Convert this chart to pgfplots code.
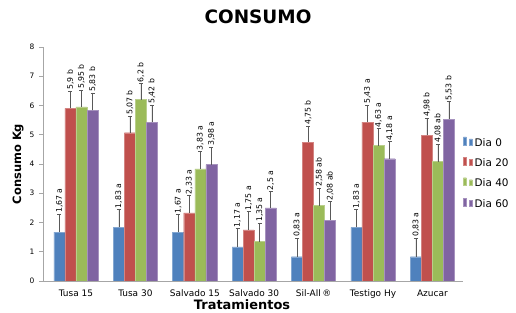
\documentclass[border=0pt]{standalone}
\usepackage{fontspec}
\setmainfont{DejaVu Sans}
\usepackage{pgfplots}
\pgfplotsset{compat=1.18}
\definecolor{cBlue}{RGB}{79,129,189}
\definecolor{cRed}{RGB}{192,80,77}
\definecolor{cGreen}{RGB}{155,187,89}
\definecolor{cPurple}{RGB}{128,100,162}
\begin{document}
\begin{tikzpicture}
\begin{axis}[
  at={(0,0)}, anchor=south west,
  scale only axis, width=420bp, height=234bp,
  xmin=-0.555, xmax=6.515, ymin=0, ymax=8,
  axis x line*=bottom, axis y line*=left,
  axis line style={black!35, line width=0.6pt},
  xtick={0,1,2,3,4,5,6},
  xticklabels={Tusa 15, Tusa 30, Salvado 15, Salvado 30, Sil-All\,®, Testigo Hy, Azucar},
  xtick style={draw=none},
  ytick={0,1,...,8},
  ytick style={black!35, line width=0.6pt},
  tick align=outside, major tick length=4bp,
  /pgf/number format/assume math mode=true,
  yticklabel style={font=\fontsize{7.5}{9}\selectfont, xshift=-1bp},
  xticklabel style={font=\fontsize{9}{11}\selectfont, yshift=-1bp},
  title={CONSUMO},
  title style={at={(axis description cs:0.512,1.102)}, anchor=center, inner sep=0pt, font=\fontsize{18.5}{20}\selectfont\bfseries},
  xlabel={Tratamientos},
  xlabel style={at={(axis description cs:0.474,-0.103)}, anchor=center, inner sep=0pt, font=\fontsize{13}{15}\selectfont\bfseries},
  ylabel={Consumo Kg},
  ylabel style={at={(axis description cs:-0.0595,0.5)}, anchor=center, inner sep=0pt, font=\fontsize{11.5}{14}\selectfont\bfseries},
  legend style={at={(1.0,0.62)}, anchor=north west, draw=none, fill=none,
    font=\fontsize{10.5}{12}\selectfont, row sep=7bp, inner sep=0pt,
    legend cell align=left},
  legend image code/.code={\fill[#1] (0bp,-3.7bp) rectangle (8bp,3.7bp);},
  ybar, bar width=0.186, bar shift=0pt,
  error bars/y dir=plus, error bars/y explicit,
  error bars/error bar style={black!65, line width=0.6pt},
  error bars/error mark options={rotate=90, mark size=2bp, black!65, line width=0.6pt},
  nodes near coords style={rotate=90, anchor=west, font=\fontsize{7.8}{8}\selectfont, inner sep=1bp},
]
% bars
\addplot[fill=cBlue, draw=cBlue!70!white, line width=0.4pt]
  coordinates {(-0.279,1.67) +- (0,0.62) (0.721,1.83) +- (0,0.62) (1.721,1.67) +- (0,0.6) (2.721,1.17) +- (0,0.63)
               (3.721,0.83) +- (0,0.64) (4.721,1.83) +- (0,0.62) (5.721,0.83) +- (0,0.64)};
\addlegendentry{Dia 0}
\addplot[fill=cRed, draw=cRed!70!white, line width=0.4pt]
  coordinates {(-0.093,5.9) +- (0,0.6) (0.907,5.07) +- (0,0.57) (1.907,2.33) +- (0,0.6) (2.907,1.75) +- (0,0.62)
               (3.907,4.75) +- (0,0.55) (4.907,5.43) +- (0,0.59) (5.907,4.98) +- (0,0.59)};
\addlegendentry{Dia 20}
\addplot[fill=cGreen, draw=cGreen!70!white, line width=0.4pt]
  coordinates {(0.093,5.95) +- (0,0.58) (1.093,6.2) +- (0,0.56) (2.093,3.83) +- (0,0.6) (3.093,1.35) +- (0,0.63)
               (4.093,2.58) +- (0,0.6) (5.093,4.63) +- (0,0.59) (6.093,4.08) +- (0,0.6)};
\addlegendentry{Dia 40}
\addplot[fill=cPurple, draw=cPurple!70!white, line width=0.4pt]
  coordinates {(0.279,5.83) +- (0,0.6) (1.279,5.42) +- (0,0.6) (2.279,3.98) +- (0,0.6) (3.279,2.5) +- (0,0.56)
               (4.279,2.08) +- (0,0.63) (5.279,4.18) +- (0,0.58) (6.279,5.53) +- (0,0.6)};
\addlegendentry{Dia 60}
% labels at top of the error bars
\addplot[draw=none, fill=none, forget plot, nodes near coords, point meta=explicit symbolic]
  coordinates {(-0.279,2.29) [1,67 a] (0.721,2.45) [1,83 a] (1.721,2.27) [1,67 a] (2.721,1.80) [1,17 a]
               (3.721,1.47) [0,83 a] (4.721,2.45) [1,83 a] (5.721,1.47) [0,83 a]};
\addplot[draw=none, fill=none, forget plot, nodes near coords, point meta=explicit symbolic]
  coordinates {(-0.093,6.50) [5,9 b] (0.907,5.64) [5,07 b] (1.907,2.93) [2,33 a] (2.907,2.37) [1,75 a]
               (3.907,5.30) [4,75 b] (4.907,6.02) [5,43 a] (5.907,5.57) [4,98 b]};
\addplot[draw=none, fill=none, forget plot, nodes near coords, point meta=explicit symbolic]
  coordinates {(0.093,6.53) [5,95 b] (1.093,6.76) [6,2 b] (2.093,4.43) [3,83 a] (3.093,1.98) [1,35 a]
               (4.093,3.18) [2,58 ab] (5.093,5.22) [4,63 a] (6.093,4.68) [4,08 ab]};
\addplot[draw=none, fill=none, forget plot, nodes near coords, point meta=explicit symbolic]
  coordinates {(0.279,6.43) [5,83 b] (1.279,6.02) [5,42 b] (2.279,4.58) [3,98 a] (3.279,3.06) [2,5 a]
               (4.279,2.71) [2,08 ab] (5.279,4.76) [4,18 a] (6.279,6.13) [5,53 b]};
\end{axis}
\path[use as bounding box] (-43bp,-32bp) rectangle (473bp,281bp);
\end{tikzpicture}
\end{document}
